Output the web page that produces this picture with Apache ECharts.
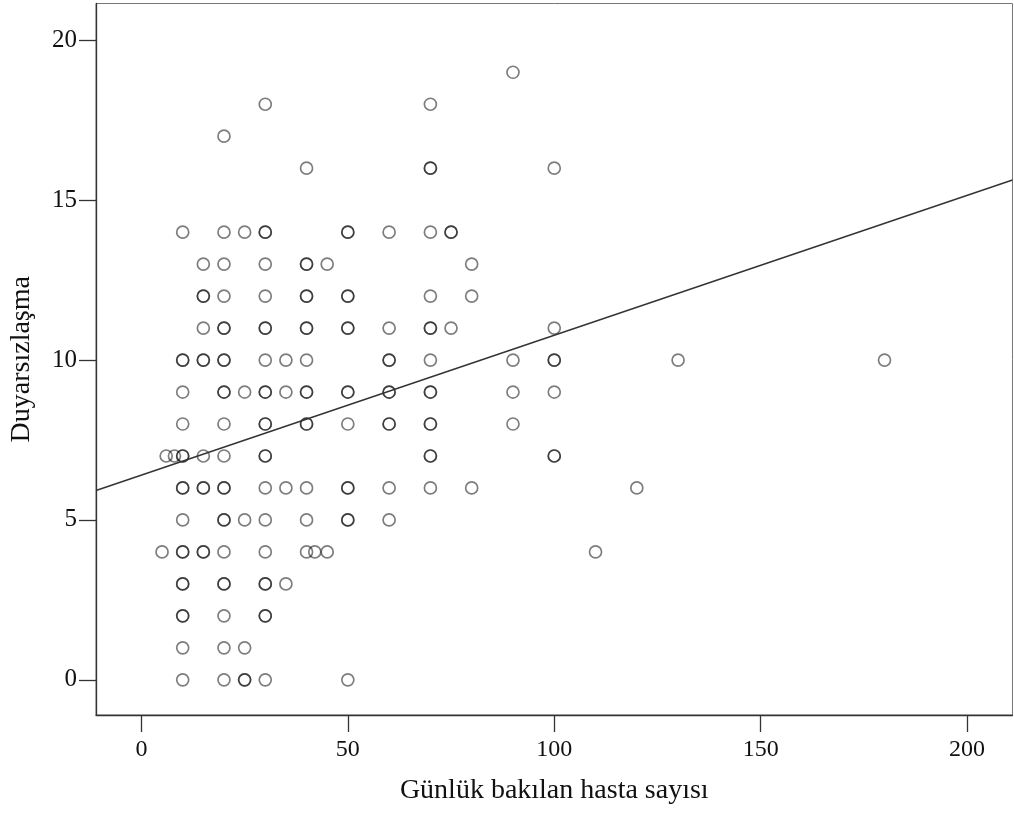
<!DOCTYPE html>
<html>
<head>
<meta charset="utf-8">
<script src="https://cdn.jsdelivr.net/npm/echarts@6/dist/echarts.min.js"></script>
<style>
html,body{margin:0;padding:0;background:#fff;}
#chart{width:1014px;height:816px;}
</style>
</head>
<body>
<div id="chart"></div>
<script>
// Günlük bakılan hasta sayısı (x) and Duyarsızlaşma (y), paired; repeated pairs = overlapping cases
const xValues = [
  90,
  30, 70,
  20,
  40, 70, 70, 100,
  10, 20, 25, 30, 30, 50, 50, 60, 70, 75, 75,
  15, 20, 30, 40, 40, 45, 80,
  15, 15, 20, 30, 40, 40, 50, 50, 70, 80,
  15, 20, 20, 30, 30, 40, 40, 50, 50, 60, 70, 70, 75, 100,
  10, 10, 15, 15, 20, 20, 30, 35, 40, 60, 60, 70, 90, 100, 100, 130, 180,
  10, 20, 20, 25, 30, 30, 35, 40, 40, 50, 50, 60, 60, 70, 70, 90, 100,
  10, 20, 30, 30, 40, 40, 50, 60, 60, 70, 70, 90,
  6, 8, 10, 10, 15, 20, 30, 30, 70, 70, 100, 100,
  10, 10, 15, 15, 20, 20, 30, 35, 40, 50, 50, 60, 70, 80, 120,
  10, 20, 20, 25, 30, 40, 50, 50, 60,
  5, 10, 10, 15, 15, 20, 30, 40, 42, 45, 110,
  10, 10, 20, 20, 30, 30, 35,
  10, 10, 20, 30, 30,
  10, 20, 25,
  10, 20, 25, 25, 30, 50
];
const yValues = [
  19,
  18, 18,
  17,
  16, 16, 16, 16,
  14, 14, 14, 14, 14, 14, 14, 14, 14, 14, 14,
  13, 13, 13, 13, 13, 13, 13,
  12, 12, 12, 12, 12, 12, 12, 12, 12, 12,
  11, 11, 11, 11, 11, 11, 11, 11, 11, 11, 11, 11, 11, 11,
  10, 10, 10, 10, 10, 10, 10, 10, 10, 10, 10, 10, 10, 10, 10, 10, 10,
  9, 9, 9, 9, 9, 9, 9, 9, 9, 9, 9, 9, 9, 9, 9, 9, 9,
  8, 8, 8, 8, 8, 8, 8, 8, 8, 8, 8, 8,
  7, 7, 7, 7, 7, 7, 7, 7, 7, 7, 7, 7,
  6, 6, 6, 6, 6, 6, 6, 6, 6, 6, 6, 6, 6, 6, 6,
  5, 5, 5, 5, 5, 5, 5, 5, 5,
  4, 4, 4, 4, 4, 4, 4, 4, 4, 4, 4,
  3, 3, 3, 3, 3, 3, 3,
  2, 2, 2, 2, 2,
  1, 1, 1,
  0, 0, 0, 0, 0, 0
];
// Fit line endpoints read at the plot edges
const fitLineX = [-11, 211];
const fitLineY = [5.92, 15.63];

const xTicks = [0, 50, 100, 150, 200];
const yTicks = [0, 5, 10, 15, 20];
const xTitle = 'Günlük bakılan hasta sayısı';
const yTitle = 'Duyarsızlaşma';

const points = xValues.map((x, i) => [x, yValues[i]]);
const linePts = fitLineX.map((x, i) => [x, fitLineY[i]]);

const FONT = '"Liberation Serif", "DejaVu Serif", serif';
const chart = echarts.init(document.getElementById('chart'), null, {renderer: 'canvas'});
chart.setOption({
  animation: false,
  backgroundColor: '#ffffff',
  grid: {
    left: 93.5, right: 1.5, top: 3.5, bottom: 101,
    show: true, borderColor: '#777', borderWidth: 1, backgroundColor: 'transparent'
  },
  xAxis: {
    type: 'value', min: -11, max: 211,
    name: xTitle, nameLocation: 'middle', nameGap: 62,
    nameTextStyle: {fontFamily: FONT, fontSize: 28, color: '#111', verticalAlign: 'top'},
    axisLine: {show: true, onZero: false, lineStyle: {color: '#333', width: 1.3}},
    axisTick: {show: true, length: 17, customValues: xTicks, lineStyle: {color: '#333', width: 1.3}},
    axisLabel: {customValues: xTicks, margin: 23, fontFamily: FONT, fontSize: 24, color: '#111'},
    splitLine: {show: false}
  },
  yAxis: {
    type: 'value', min: -1.1, max: 21.15,
    name: yTitle, nameLocation: 'middle', nameGap: 60, nameRotate: 90,
    nameTextStyle: {fontFamily: FONT, fontSize: 28, color: '#111'},
    axisLine: {show: true, onZero: false, lineStyle: {color: '#333', width: 1.3}},
    axisTick: {show: true, length: 17, customValues: yTicks, lineStyle: {color: '#333', width: 1.3}},
    axisLabel: {customValues: yTicks, margin: 19, fontFamily: FONT, fontSize: 25, color: '#111'},
    splitLine: {show: false}
  },
  series: [
    {
      type: 'scatter',
      data: points,
      symbol: 'circle',
      symbolSize: 12,
      itemStyle: {color: 'rgba(255,255,255,0)', borderColor: 'rgba(0,0,0,0.64)', borderWidth: 1.7},
      emphasis: {disabled: true},
      z: 3
    },
    {
      type: 'line',
      data: linePts,
      showSymbol: false,
      symbol: 'none',
      clip: true,
      lineStyle: {color: '#333', width: 1.4},
      emphasis: {disabled: true},
      z: 4
    }
  ]
});
</script>
</body>
</html>
